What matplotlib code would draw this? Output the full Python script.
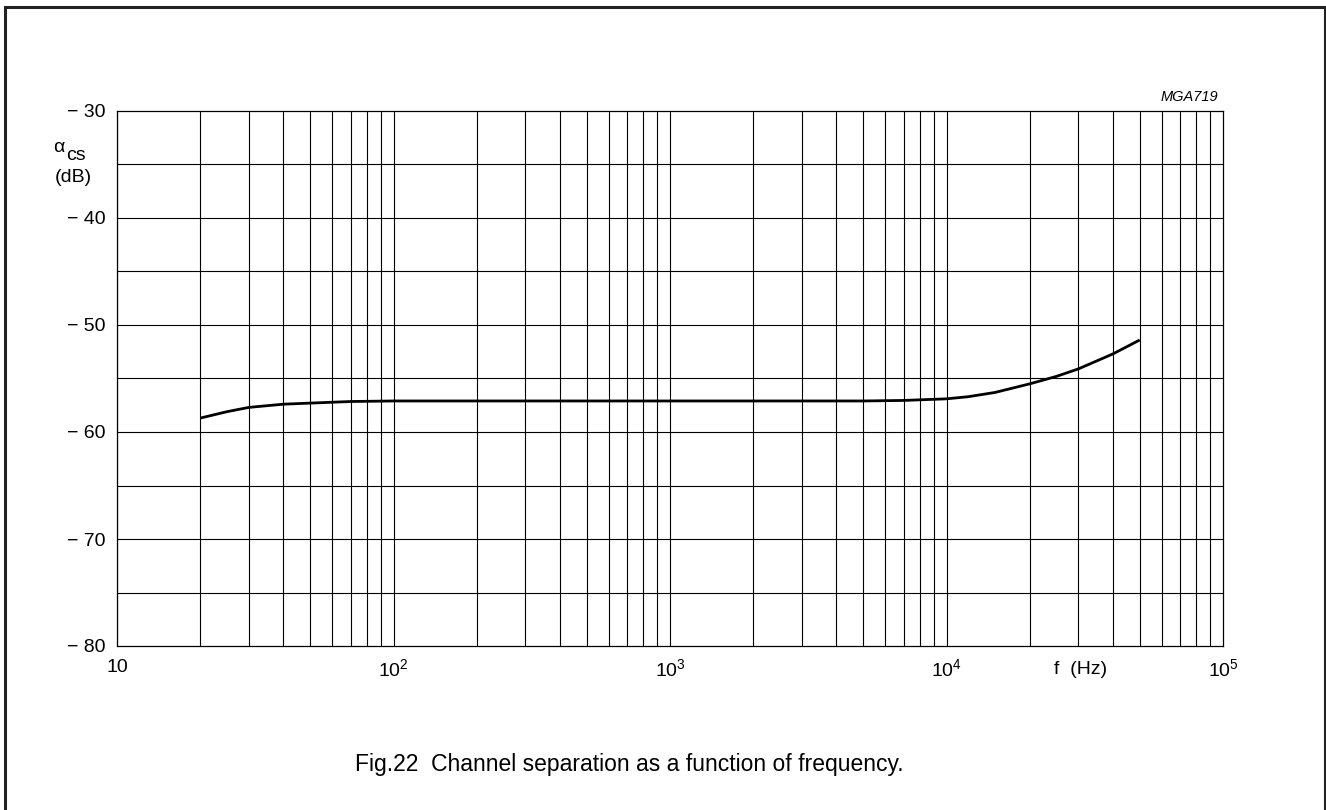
import matplotlib
matplotlib.use("Agg")
import matplotlib.pyplot as plt
from matplotlib.patches import Rectangle

plt.rcParams['font.family'] = ['Liberation Sans', 'DejaVu Sans']
plt.rcParams['mathtext.fontset'] = 'custom'
plt.rcParams['mathtext.rm'] = 'Liberation Sans'

# channel separation curve
freq = [20, 25, 30, 40, 50, 70, 100, 1000, 5000, 7000, 10000, 12000,
        15000, 20000, 25000, 30000, 40000, 50000]
alpha_cs = [-58.7, -58.1, -57.7, -57.4, -57.3, -57.15, -57.1, -57.1, -57.1,
            -57.05, -56.9, -56.7, -56.3, -55.5, -54.8, -54.1, -52.7, -51.4]

y_ticks = [-80, -70, -60, -50, -40, -30]
y_tick_labels = ['\u2212 80', '\u2212 70', '\u2212 60', '\u2212 50', '\u2212 40', '\u2212 30']
x_ticks = [10, 100, 1000, 10000, 100000]
x_tick_labels = ['10', r'$10^2$', r'$10^3$', r'$10^4$', r'$10^5$']

W, H = 1326, 810
fig = plt.figure(figsize=(W / 100, H / 100), dpi=100)
ax = fig.add_axes([117 / W, 1 - 646 / H, (1223 - 117) / W, (646 - 111) / H])

# outer frame
fig.patches.append(Rectangle((5 / W, -0.05), (1325 - 5) / W, 1.05 - 7 / H,
                             transform=fig.transFigure, fill=False,
                             edgecolor='#222222', linewidth=2.2))

ax.set_xscale('log')
ax.set_xlim(10, 1e5)
ax.set_ylim(-80, -30)

# grid
for dec in [10, 100, 1000, 10000]:
    for m in range(1, 10):
        ax.axvline(dec * m, color='black', lw=0.8, zorder=1)
for yv in range(-75, -30, 5):
    ax.axhline(yv, color='black', lw=0.8, zorder=1)

ax.plot(freq, alpha_cs, color='black', lw=2.0, zorder=3, solid_capstyle='butt')

for s in ax.spines.values():
    s.set_linewidth(0.9)

ax.set_yticks(y_ticks)
ax.set_yticklabels(y_tick_labels, fontsize=14)
ax.set_xticks(x_ticks)
ax.set_xticklabels(x_tick_labels, fontsize=14)
ax.minorticks_off()
ax.tick_params(axis='both', length=0)
ax.tick_params(axis='y', pad=8)
ax.tick_params(axis='x', pad=9)

fig.text(1081 / W, 1 - 670 / H, 'f  (Hz)', fontsize=14, ha='center', va='center')
fig.text(1218 / W, 1 - 97 / H, 'MGA719', fontsize=10.5, style='italic', ha='right', va='center')
fig.text(59 / W, 1 - 147 / H, '\u03b1', fontsize=14, ha='center', va='center')
fig.text(66 / W, 1 - 155 / H, 'cs', fontsize=14, ha='left', va='center')
fig.text(73 / W, 1 - 177 / H, '(dB)', fontsize=14, ha='center', va='center')
fig.text(355 / W, 1 - 765 / H, 'Fig.22  Channel separation as a function of frequency.',
         fontsize=16.5, ha='left', va='center')

fig.savefig('out.png', dpi=100)
